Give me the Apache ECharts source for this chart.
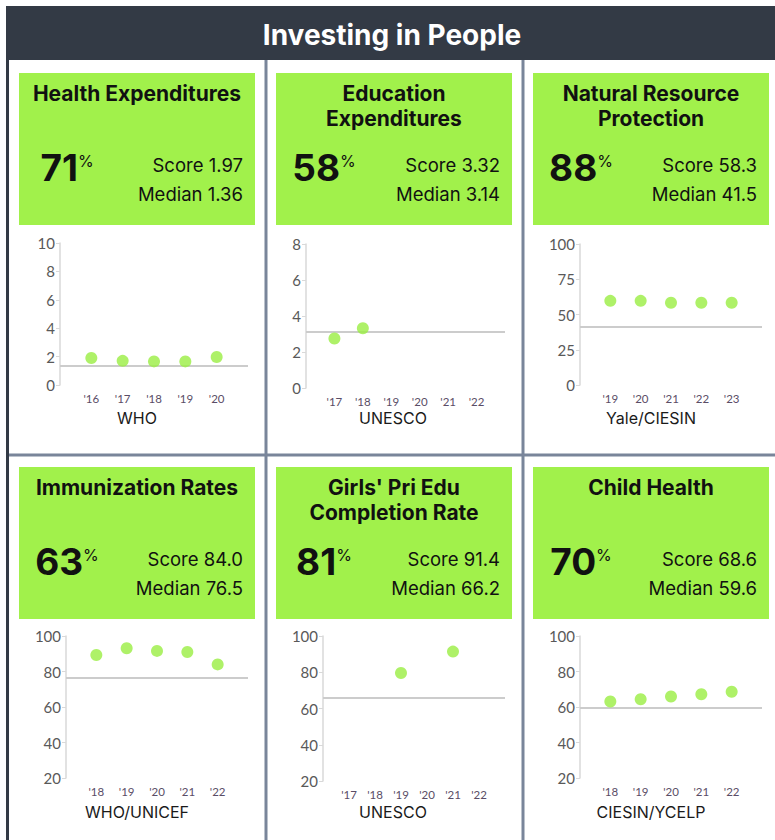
<!DOCTYPE html>
<html>
<head>
<meta charset="utf-8">
<script src="https://cdn.jsdelivr.net/npm/echarts@6/dist/echarts.min.js"></script>
<style>
  html, body { margin: 0; padding: 0; background: #fff; }
  #chart { width: 775px; height: 840px; }
</style>
</head>
<body>
<div id="chart"></div>
<script>
// data
const titles = [
  ['Health Expenditures'],
  ['Education', 'Expenditures'],
  ['Natural Resource', 'Protection'],
  ['Immunization Rates'],
  ["Girls' Pri Edu", 'Completion Rate'],
  ['Child Health']
]
const percentiles = ['71', '58', '88', '63', '81', '70']
const scores = ['1.97', '3.32', '58.3', '84.0', '91.4', '68.6']
const medianLabels = ['1.36', '3.14', '41.5', '76.5', '66.2', '59.6']
const medians = [1.36, 3.14, 41.5, 76.5, 66.2, 59.6]
const sources = ['WHO', 'UNESCO', 'Yale/CIESIN', 'WHO/UNICEF', 'UNESCO', 'CIESIN/YCELP']

const healthYears = ["'16", "'17", "'18", "'19", "'20"]
const healthValues = [1.9, 1.7, 1.66, 1.66, 1.97]
const educationYears = ["'17", "'18", "'19", "'20", "'21", "'22"]
const educationValues = [2.75, 3.32, null, null, null, null]
const natureYears = ["'19", "'20", "'21", "'22", "'23"]
const natureValues = [59.7, 59.7, 58.3, 58.3, 58.3]
const immunizationYears = ["'18", "'19", "'20", "'21", "'22"]
const immunizationValues = [89.3, 93.1, 91.6, 91.0, 84.0]
const girlsYears = ["'17", "'18", "'19", "'20", "'21", "'22"]
const girlsValues = [null, null, 79.6, null, 91.4, null]
const childYears = ["'18", "'19", "'20", "'21", "'22"]
const childValues = [63.1, 64.4, 65.9, 67.2, 68.6]

const years = [healthYears, educationYears, natureYears, immunizationYears, girlsYears, childYears]
const values = [healthValues, educationValues, natureValues, immunizationValues, girlsValues, childValues]

// layout
const GREEN = '#a1f14b'
const DOT = '#9aee42'
const DARK = '#333a45'
const DIVIDER = '#79859a'
const HEAD_FONT = 'Inter, "Noto Sans", sans-serif'
const AXIS_FONT = 'Lato, "Open Sans", sans-serif'

const yRanges = [
  { min: 0, max: 10, interval: 2 },
  { min: 0, max: 8, interval: 2 },
  { min: 0, max: 100, interval: 25 },
  { min: 20, max: 100, interval: 20 },
  { min: 20, max: 100, interval: 20 },
  { min: 20, max: 100, interval: 20 }
]
const grids = [
  { left: 60, top: 243, width: 188, height: 142 },
  { left: 306, top: 244, width: 199, height: 144 },
  { left: 580, top: 244, width: 182, height: 141 },
  { left: 66, top: 636, width: 182, height: 142 },
  { left: 323, top: 636, width: 182, height: 145 },
  { left: 580, top: 636, width: 182, height: 142 }
]
const boxes = [
  { x: 19, y: 73 }, { x: 276, y: 73 }, { x: 533, y: 73 },
  { x: 19, y: 467 }, { x: 276, y: 467 }, { x: 533, y: 467 }
]
const BOX_W = 236
const BOX_H = 152
const sourceX = [137, 393, 651, 137, 393, 651]

const pad = (arr, blank) => [blank, ...arr, blank]

const graphic = [
  { type: 'rect', shape: { x: 6, y: 6, width: 775, height: 54 }, style: { fill: DARK } },
  { type: 'rect', shape: { x: 6, y: 6, width: 3, height: 840 }, style: { fill: DARK } },
  { type: 'rect', shape: { x: 264.5, y: 60, width: 3, height: 780 }, style: { fill: DIVIDER } },
  { type: 'rect', shape: { x: 521.5, y: 60, width: 3, height: 780 }, style: { fill: DIVIDER } },
  { type: 'rect', shape: { x: 9, y: 453.5, width: 766, height: 3 }, style: { fill: DIVIDER } },
  {
    type: 'text',
    style: {
      text: 'Investing in People', x: 392, y: 35, align: 'center', verticalAlign: 'middle',
      fill: '#fff', font: 'bold 28px ' + HEAD_FONT
    }
  }
]

boxes.forEach((b, i) => {
  graphic.push({ type: 'rect', shape: { x: b.x, y: b.y, width: BOX_W, height: BOX_H }, style: { fill: GREEN } })
  titles[i].forEach((line, k) => {
    graphic.push({
      type: 'text',
      style: {
        text: line, x: b.x + BOX_W / 2, y: b.y + 20 + k * 25, align: 'center', verticalAlign: 'middle',
        fill: '#111', font: 'bold 21px ' + HEAD_FONT
      }
    })
  })
  graphic.push({
    type: 'text',
    style: {
      text: '{n|' + percentiles[i] + '}{p|%}', x: b.x + 48, y: b.y + 94,
      align: 'center', verticalAlign: 'middle',
      rich: {
        n: { fontSize: 37, fontWeight: 'bold', fontFamily: HEAD_FONT, fill: '#111', lineHeight: 28 },
        p: { fontSize: 16, fontFamily: HEAD_FONT, fill: '#111', verticalAlign: 'top', lineHeight: 28 }
      }
    }
  })
  graphic.push({
    type: 'text',
    style: {
      text: 'Score ' + scores[i], x: b.x + BOX_W - 12, y: b.y + 92, align: 'right', verticalAlign: 'middle',
      fill: '#111', font: '18.5px ' + HEAD_FONT
    }
  })
  graphic.push({
    type: 'text',
    style: {
      text: 'Median ' + medianLabels[i], x: b.x + BOX_W - 12, y: b.y + 121, align: 'right', verticalAlign: 'middle',
      fill: '#111', font: '18.5px ' + HEAD_FONT
    }
  })
  graphic.push({
    type: 'text',
    style: {
      text: sources[i], x: sourceX[i], y: b.y + 345, align: 'center', verticalAlign: 'middle',
      fill: '#1a1a1a', font: '16px ' + HEAD_FONT
    }
  })
})

const chart = echarts.init(document.getElementById('chart'), null, { renderer: 'svg' })

chart.setOption({
  animation: false,
  grid: grids,
  xAxis: grids.map((g, i) => ({
    type: 'category',
    gridIndex: i,
    boundaryGap: false,
    data: pad(years[i], ''),
    axisLine: { show: false },
    axisTick: { show: false },
    splitLine: { show: false },
    axisLabel: { interval: 0, margin: 7, fontSize: 11.5, color: '#5a4d66', fontFamily: AXIS_FONT }
  })),
  yAxis: grids.map((g, i) => ({
    type: 'value',
    gridIndex: i,
    min: yRanges[i].min,
    max: yRanges[i].max,
    interval: yRanges[i].interval,
    axisLine: { show: true, lineStyle: { color: '#d9d9d9', width: 1.5 } },
    axisTick: { show: true, length: 4, lineStyle: { color: '#d9d9d9' } },
    splitLine: { show: false },
    axisLabel: { margin: 5, fontSize: 15, color: '#595959', fontFamily: AXIS_FONT }
  })),
  series: grids.map((g, i) => ({
    type: 'scatter',
    xAxisIndex: i,
    yAxisIndex: i,
    symbolSize: 12,
    z: 3,
    itemStyle: { color: DOT },
    data: pad(values[i], null).map(v => (v == null ? '-' : v)),
    markLine: {
      silent: true,
      symbol: 'none',
      z: 1,
      label: { show: false },
      lineStyle: { color: '#cccccc', width: 2, type: 'solid' },
      data: [{ yAxis: medians[i] }]
    }
  })),
  graphic
})
</script>
</body>
</html>
